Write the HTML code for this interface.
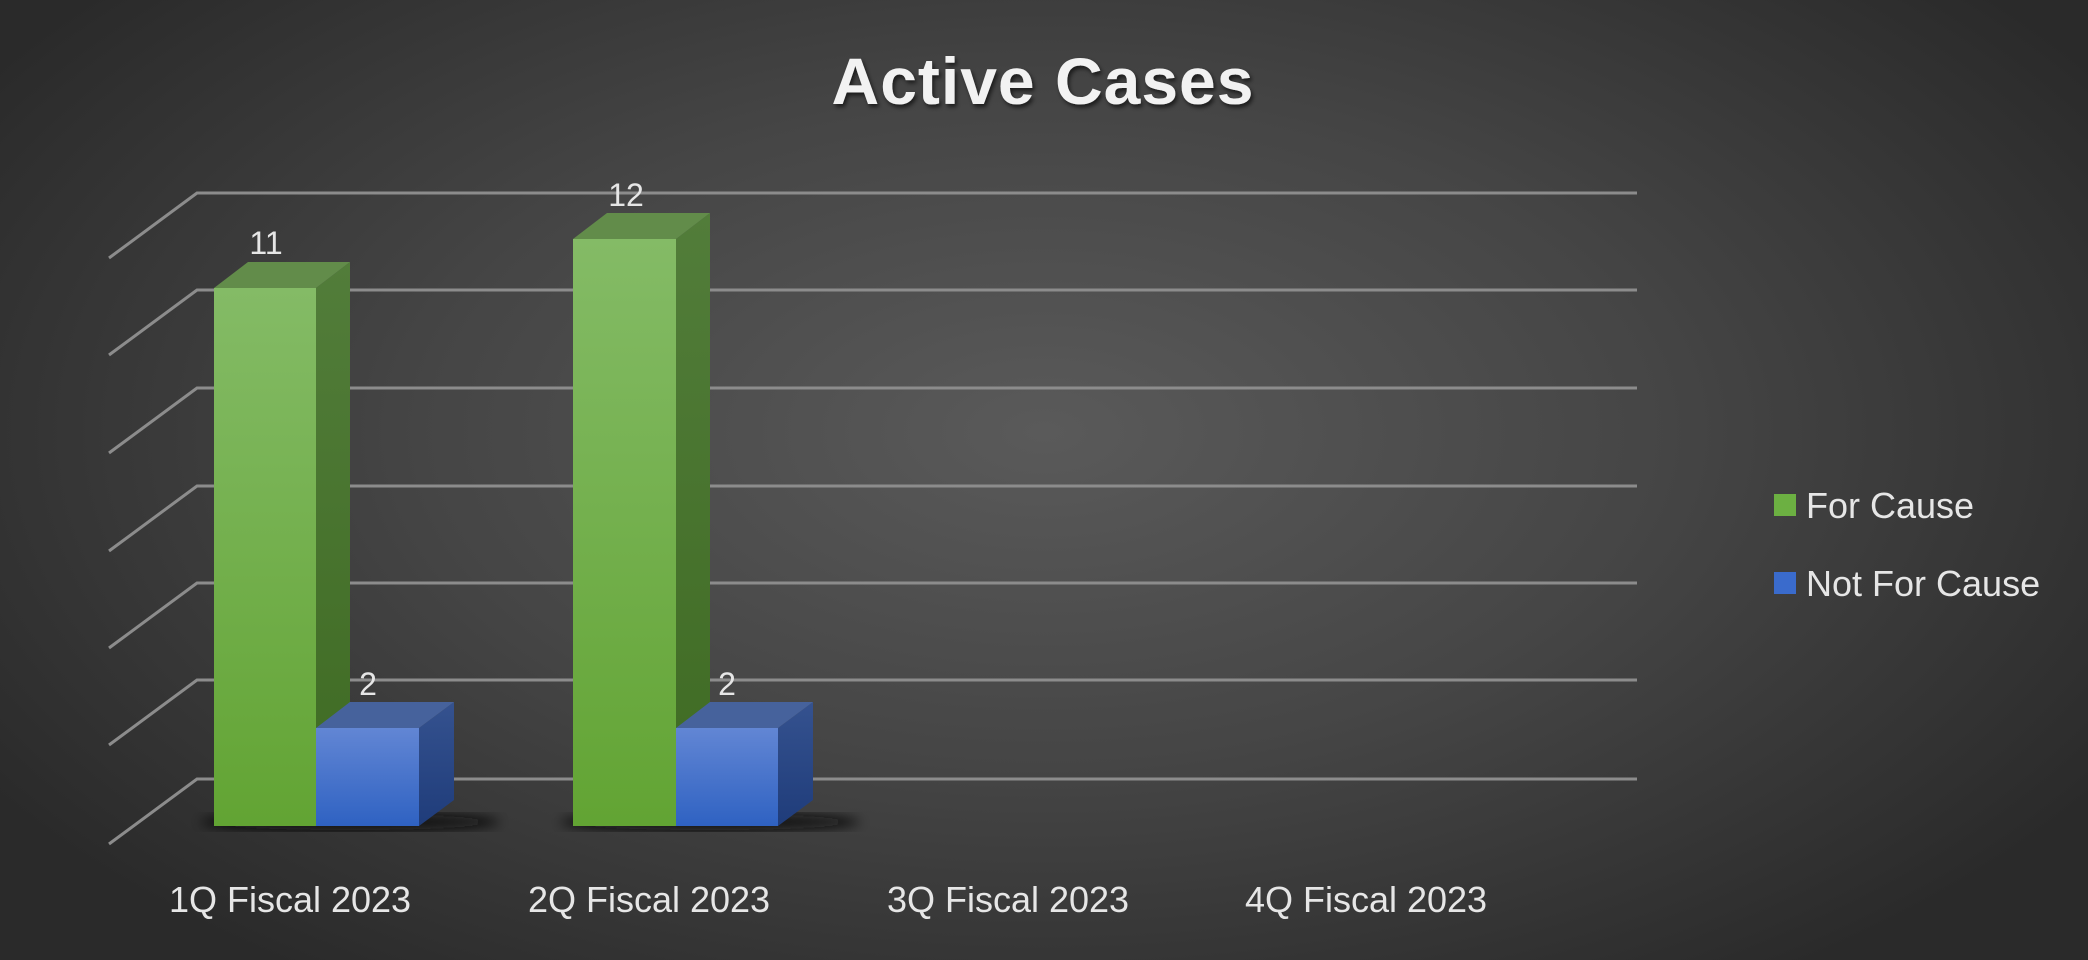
<!DOCTYPE html>
<html><head><style>
html,body{margin:0;padding:0;}
body{width:2088px;height:960px;overflow:hidden;background:radial-gradient(ellipse 60% 70% at 50% 45%,#5a5a5a 0%,#454545 50%,#2a2a2a 100%);}
svg{position:absolute;left:0;top:0;}
text{font-family:"Liberation Sans",sans-serif;}
</style></head><body>
<svg width="2088" height="960" viewBox="0 0 2088 960">
<defs>
<linearGradient id="gf" x1="0" y1="0" x2="0" y2="1"><stop offset="0" stop-color="#84bb66"/><stop offset="1" stop-color="#62a433"/></linearGradient>
<linearGradient id="gs" x1="0" y1="0" x2="0" y2="1"><stop offset="0" stop-color="#527d3a"/><stop offset="1" stop-color="#3e6a22"/></linearGradient>
<linearGradient id="bf" x1="0" y1="0" x2="0" y2="1"><stop offset="0" stop-color="#6286d4"/><stop offset="1" stop-color="#2f62c2"/></linearGradient>
<linearGradient id="bs" x1="0" y1="0" x2="0" y2="1"><stop offset="0" stop-color="#35528f"/><stop offset="1" stop-color="#1f3c7a"/></linearGradient>
<filter id="bl"><feGaussianBlur stdDeviation="6"/></filter>
<filter id="ts"><feDropShadow dx="2" dy="3" stdDeviation="2" flood-color="#000" flood-opacity="0.6"/></filter>
</defs>
<text x="1043" y="104" text-anchor="middle" font-size="66" font-weight="bold" fill="#f2f2f2" letter-spacing="1" filter="url(#ts)">Active Cases</text>
<g stroke="#8c8c8c" stroke-width="3" fill="none">
<polyline points="109,258 197,193 1637,193"/>
<polyline points="109,355 197,290 1637,290"/>
<polyline points="109,453 197,388 1637,388"/>
<polyline points="109,551 197,486 1637,486"/>
<polyline points="109,648 197,583 1637,583"/>
<polyline points="109,745 197,680 1637,680"/>
<polyline points="109,844 197,779 1637,779"/>
</g>
<ellipse cx="350" cy="822" rx="150" ry="8" fill="#111" filter="url(#bl)"/>
<ellipse cx="710" cy="822" rx="150" ry="8" fill="#111" filter="url(#bl)"/>
<g>
<rect x="214" y="288" width="102" height="538" fill="url(#gf)"/>
<polygon points="316,288 350,262 350,800 316,826" fill="url(#gs)"/>
<polygon points="214,288 248,262 350,262 316,288" fill="#628c4a"/>
<rect x="316" y="728" width="103" height="98" fill="url(#bf)"/>
<polygon points="419,728 454,702 454,800 419,826" fill="url(#bs)"/>
<polygon points="316,728 350,702 454,702 419,728" fill="#46629c"/>
</g>
<g>
<rect x="573" y="239" width="103" height="587" fill="url(#gf)"/>
<polygon points="676,239 710,213 710,800 676,826" fill="url(#gs)"/>
<polygon points="573,239 607,213 710,213 676,239" fill="#628c4a"/>
<rect x="676" y="728" width="102" height="98" fill="url(#bf)"/>
<polygon points="778,728 813,702 813,800 778,826" fill="url(#bs)"/>
<polygon points="676,728 710,702 813,702 778,728" fill="#46629c"/>
</g>
<g font-size="32" fill="#e6e6e6" text-anchor="middle">
<text x="266" y="254">11</text>
<text x="626" y="206">12</text>
<text x="368" y="695">2</text>
<text x="727" y="695">2</text>
</g>
<g font-size="36" fill="#e6e6e6" text-anchor="middle">
<text x="290" y="912">1Q Fiscal 2023</text>
<text x="649" y="912">2Q Fiscal 2023</text>
<text x="1008" y="912">3Q Fiscal 2023</text>
<text x="1366" y="912">4Q Fiscal 2023</text>
</g>
<rect x="1774" y="494" width="22" height="22" fill="#6cb042"/>
<rect x="1774" y="572" width="22" height="22" fill="#3a6bcc"/>
<g font-size="36" fill="#e6e6e6">
<text x="1806" y="518">For Cause</text>
<text x="1806" y="596">Not For Cause</text>
</g>
</svg>
</body></html>
